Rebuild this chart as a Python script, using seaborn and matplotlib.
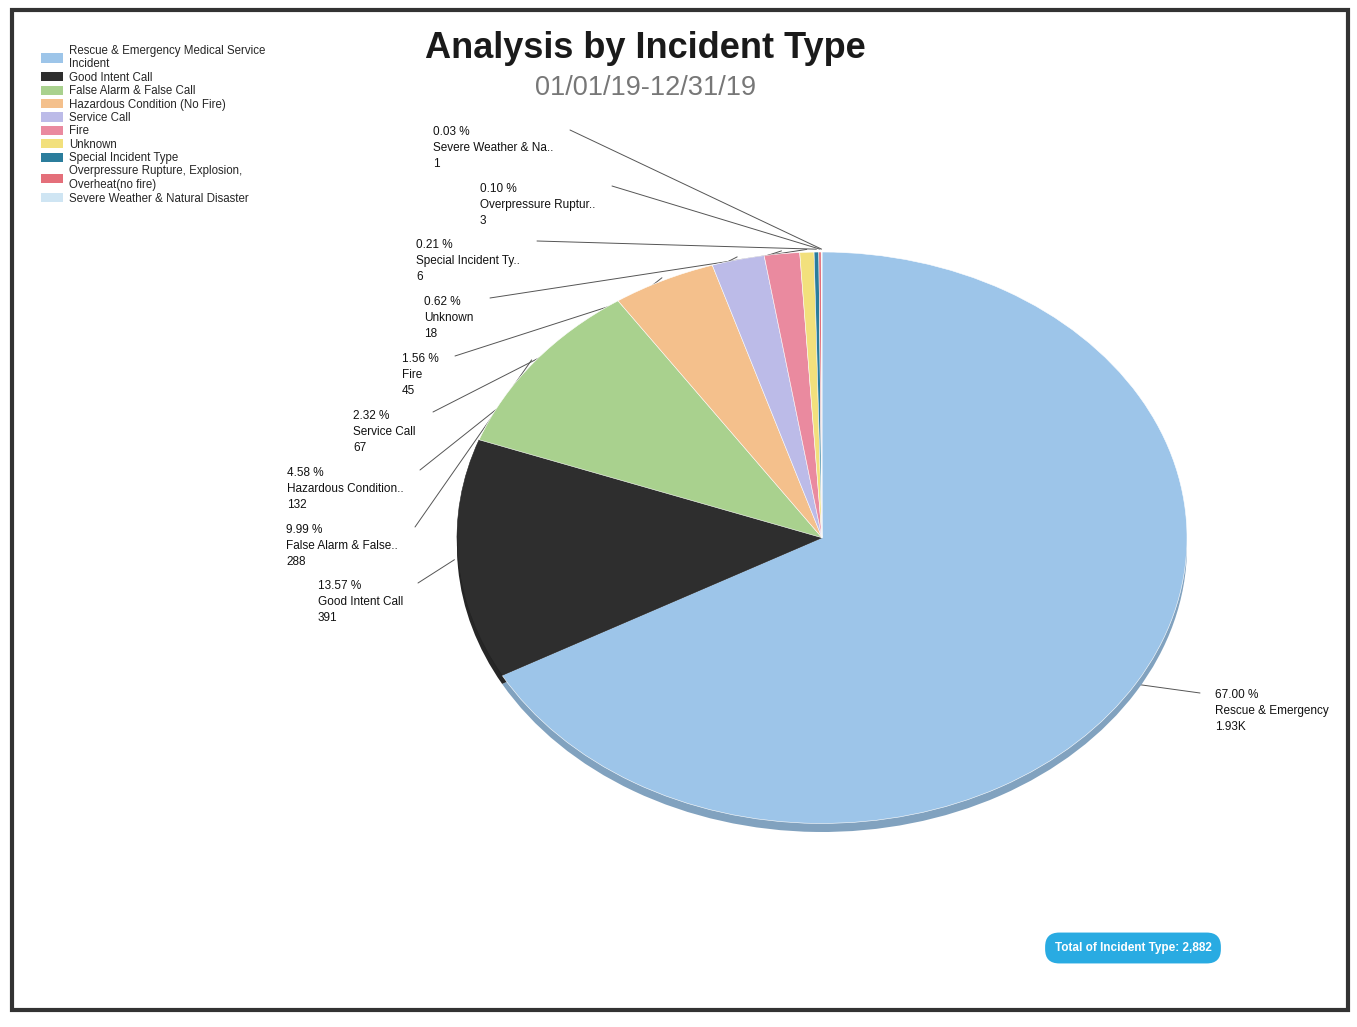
import numpy as np
import matplotlib
matplotlib.use("Agg")
import matplotlib.pyplot as plt
import matplotlib.colors as mcolors
from matplotlib.patches import Patch, Rectangle
import seaborn as sns

# data
categories = ["Rescue & Emergency Medical Service\nIncident", "Good Intent Call",
              "False Alarm & False Call", "Hazardous Condition (No Fire)", "Service Call",
              "Fire", "Unknown", "Special Incident Type",
              "Overpressure Rupture, Explosion,\nOverheat(no fire)",
              "Severe Weather & Natural Disaster"]
short_names = ["Rescue & Emergency", "Good Intent Call", "False Alarm & False..",
               "Hazardous Condition..", "Service Call", "Fire", "Unknown",
               "Special Incident Ty..", "Overpressure Ruptur..", "Severe Weather & Na.."]
counts = [1931, 391, 288, 132, 67, 45, 18, 6, 3, 1]
total = 2882
colors = ["#9dc5e9", "#2e2e2e", "#a9d18e", "#f4c08c", "#bcbbe8",
          "#ea8a9f", "#f2e07c", "#2b7d9c", "#e46f7a", "#cfe5f3"]

W, H = 1357, 1027

sns.set_theme(style="white")
plt.rcParams["font.family"] = ["Liberation Sans", "DejaVu Sans"]

fig = plt.figure(figsize=(W / 100, H / 100), dpi=100)


def px(x, y):
    # top-left pixel -> figure fraction
    return x / W, 1 - y / H


# pie axes sized so the pie reads as a flattened ellipse
cx, cy, rx, ry = 822, 542, 365, 290
ax = fig.add_axes([(cx - rx) / W, 1 - (cy + ry) / H, 2 * rx / W, 2 * ry / H])

# darker rim underneath for the 3d look
rim = [mcolors.to_hex(np.array(mcolors.to_rgb(c)) * 0.82) for c in colors]
ax.pie(counts, colors=rim, startangle=90, counterclock=False, center=(0, -0.03),
       wedgeprops=dict(linewidth=0, zorder=1))
wedges, _ = ax.pie(counts, colors=colors, startangle=90, counterclock=False,
                   wedgeprops=dict(linewidth=0.4, edgecolor="white", zorder=2))
wedges[1].set_edgecolor("#222222")
ax.set_aspect("auto")
ax.set_xlim(-1, 1)
ax.set_ylim(-1.03, 1)
ax.axis("off")

# label text positions (top-left pixel) and leader start points
label_pos = [(1215, 689), (318, 580), (286, 524), (287, 467), (353, 410),
             (402, 353), (424, 296), (416, 239), (480, 183), (433, 126)]
leader_start = [(1200, 693), (418, 583), (415, 527), (420, 470), (433, 412),
                (455, 356), (490, 298), (537, 241), (612, 186), (570, 130)]

for i, w in enumerate(wedges):
    pct = counts[i] / total * 100
    cnt = f"{counts[i] / 1000:.2f}K" if counts[i] >= 1000 else str(counts[i])
    tx, ty = label_pos[i]
    fig.text(*px(tx, ty), f"{pct:.2f} %\n{short_names[i]}\n{cnt}", ha="left", va="top",
             fontsize=8.5, linespacing=1.45, color="#111111")
    ang = np.deg2rad((w.theta1 + w.theta2) / 2)
    edge = (np.cos(ang) * 1.01, np.sin(ang) * 1.01)
    sx, sy = leader_start[i]
    # leaders sit under the wedges so they stop at the pie edge
    ax.annotate("", xy=edge, xycoords="data", xytext=(sx, H - sy),
                textcoords="figure pixels", annotation_clip=False, zorder=0,
                arrowprops=dict(arrowstyle="-", color="#555555", lw=0.7,
                                shrinkA=0, shrinkB=0))

# titles
fig.text(*px(645, 48), "Analysis by Incident Type", ha="center", va="center",
         fontsize=26, fontweight="bold", color="#1a1a1a")
fig.text(*px(646, 88), "01/01/19-12/31/19", ha="center", va="center",
         fontsize=19.5, color="#777777")

# legend
handles = [Patch(facecolor=c, edgecolor="none") for c in colors]
fig.legend(handles, categories, loc="upper left", bbox_to_anchor=px(36, 40),
           frameon=False, fontsize=8.3, labelspacing=0.12, handlelength=1.9,
           handleheight=0.85, handletextpad=0.55, borderaxespad=0)

# total badge
fig.text(*px(1133, 948), "Total of Incident Type: 2,882", ha="center", va="center",
         fontsize=8.5, fontweight="bold", color="white",
         bbox=dict(boxstyle="round,pad=0.8,rounding_size=1.2", fc="#29abe2", ec="none"))

# outer frame
fig.patches.append(Rectangle(px(12, 1010), 1336 / W, 1000 / H, transform=fig.transFigure,
                             fill=False, edgecolor="#333333", linewidth=3))

fig.savefig("out.png", dpi=100, facecolor="white")
